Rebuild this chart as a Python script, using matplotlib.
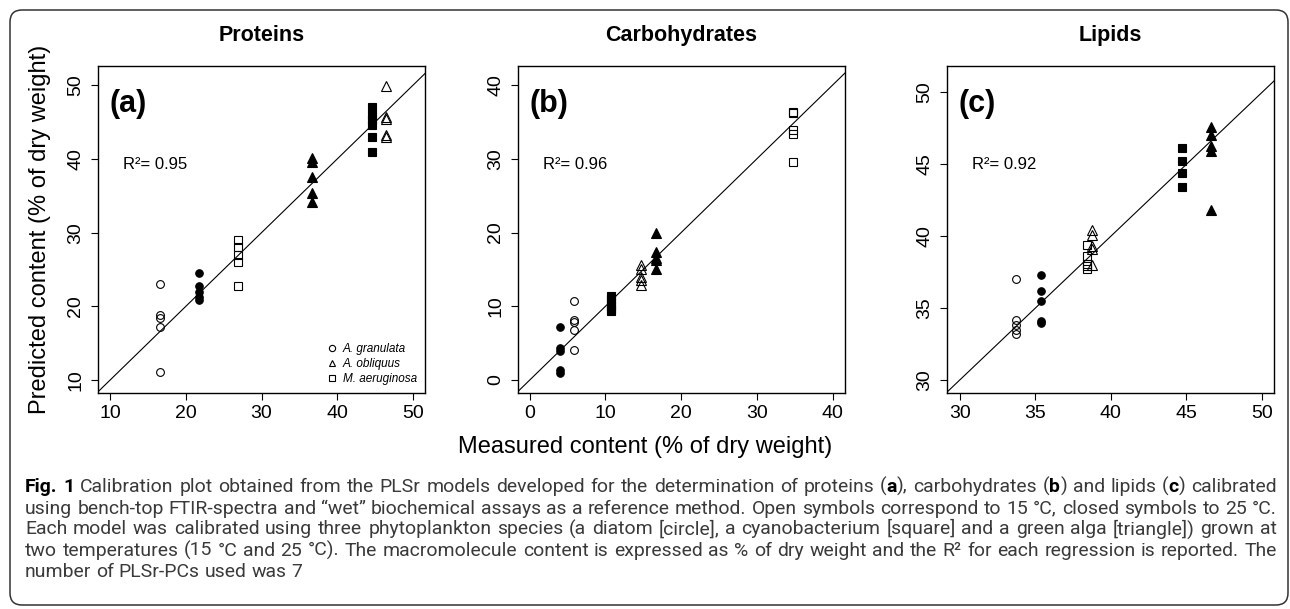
import matplotlib
matplotlib.use('Agg')
import matplotlib.pyplot as plt
from matplotlib import font_manager
from matplotlib.font_manager import FontProperties
from matplotlib.patches import FancyBboxPatch
from matplotlib.transforms import IdentityTransform

plt.rcParams['font.family'] = ['Liberation Sans', 'DejaVu Sans']

W, H = 1290, 609

# group order: A. granulata 15/25, M. aeruginosa 15/25, A. obliquus 15/25
MARKERS = ['o', 'o', 's', 's', '^', '^']
FILLED = [False, True, False, True, False, True]
SIZES = [5.6, 5.4, 5.3, 5.3, 6.8, 6.8]

# proteins
prot_meas = [16.6, 21.7, 26.9, 44.6, 46.5, 36.7]
prot_pred = [
    [23.0, 18.8, 18.4, 17.2, 11.1],
    [24.5, 22.8, 21.9, 21.3, 20.9],
    [29.0, 28.0, 27.0, 26.0, 22.7],
    [47.1, 46.0, 45.3, 44.6, 43.0, 40.9],
    [49.9, 45.7, 45.4, 43.3, 43.0],
    [40.1, 39.6, 37.5, 35.4, 34.2],
]

# carbohydrates
carb_meas = [5.8, 4.05, 34.7, 10.7, 14.7, 16.7]
carb_pred = [
    [10.7, 8.1, 7.9, 6.8, 4.1],
    [7.2, 4.4, 4.0, 1.4, 0.9],
    [36.4, 36.2, 33.9, 33.4, 29.6],
    [11.4, 11.0, 10.5, 10.0, 9.6, 9.3],
    [15.6, 15.0, 14.0, 13.5, 12.9],
    [20.0, 17.4, 16.6, 16.3, 15.1],
]

# lipids
lip_meas = [33.7, 35.4, 38.4, 44.7, 38.75, 46.6]
lip_pred = [
    [37.0, 34.2, 33.8, 33.5, 33.2],
    [37.3, 36.2, 35.5, 34.1, 34.0],
    [39.4, 38.6, 38.1, 37.9, 37.7],
    [46.1, 45.2, 44.4, 43.4],
    [40.4, 40.1, 39.3, 39.1, 38.0],
    [47.6, 47.0, 46.3, 45.9, 41.8],
]

titles = ['Proteins', 'Carbohydrates', 'Lipids']
tags = ['(a)', '(b)', '(c)']
r2_vals = ['0.95', '0.96', '0.92']
species = ['A. granulata', 'A. obliquus', 'M. aeruginosa']

caption_lines = [
    [('Fig. 1', True),
     (' Calibration plot obtained from the PLSr models developed for the determination of proteins (', False),
     ('a', True), ('), carbohydrates (', False), ('b', True), (') and lipids (', False),
     ('c', True), (') calibrated', False)],
    [('using bench-top FTIR-spectra and \u201cwet\u201d biochemical assays as a reference method. '
      'Open symbols correspond to 15 \u00b0C, closed symbols to 25 \u00b0C.', False)],
    [('Each model was calibrated using three phytoplankton species (a diatom [circle], '
      'a cyanobacterium [square] and a green alga [triangle]) grown at', False)],
    [('two temperatures (15 \u00b0C and 25 \u00b0C). The macromolecule content is expressed as '
      '% of dry weight and the R\u00b2 for each regression is reported. The', False)],
    [('number of PLSr-PCs used was 7', False)],
]


def add_px_axes(fig, x0, x1, y0, y1):
    return fig.add_axes([x0 / W, 1 - y1 / H, (x1 - x0) / W, (y1 - y0) / H])


def panel(ax, meas, pred, xlim, ylim, ticks, title, tag, r2):
    for m, p, mk, filled, ms in zip(meas, pred, MARKERS, FILLED, SIZES):
        ax.plot([m] * len(p), p, linestyle='none', marker=mk, ms=ms,
                mfc='black' if filled else 'none', mec='black', mew=0.8, zorder=3)
    ax.axline((0, 0), slope=1, color='black', lw=0.8, zorder=2)
    ax.set_xlim(xlim)
    ax.set_ylim(ylim)
    ax.set_xticks(ticks)
    ax.set_yticks(ticks)
    ax.tick_params(direction='out', length=5, width=0.8, labelsize=14, pad=4)
    ax.tick_params(axis='y', labelrotation=90, pad=5)
    for lbl in ax.get_yticklabels():
        lbl.set_verticalalignment('center')
    for sp in ax.spines.values():
        sp.set_linewidth(1.0)
    ax.set_title(title, fontsize=15.5, fontweight='bold', pad=18)
    ax.text(0.035, 0.885, tag, transform=ax.transAxes, fontsize=22,
            fontweight='bold', va='center', ha='left')
    ax.text(0.076, 0.70, 'R\u00b2= ' + r2, transform=ax.transAxes,
            fontsize=12, va='center', ha='left')


fig = plt.figure(figsize=(W / 100, H / 100), dpi=100)

ax_a = add_px_axes(fig, 98, 425, 66, 393)
ax_b = add_px_axes(fig, 518, 845, 66, 393)
ax_c = add_px_axes(fig, 947, 1274, 66, 393)

panel(ax_a, prot_meas, prot_pred, (8.4, 51.6), (8.24, 52.62),
      [10, 20, 30, 40, 50], titles[0], tags[0], r2_vals[0])
panel(ax_b, carb_meas, carb_pred, (-1.55, 41.63), (-1.76, 42.58),
      [0, 10, 20, 30, 40], titles[1], tags[1], r2_vals[1])
panel(ax_c, lip_meas, lip_pred, (29.16, 50.79), (29.10, 51.83),
      [30, 35, 40, 45, 50], titles[2], tags[2], r2_vals[2])

# legend (open symbols only)
handles = []
for mk in ['o', '^', 's']:
    h, = ax_a.plot([], [], linestyle='none', marker=mk, ms=4.5, mfc='none',
                   mec='black', mew=0.8)
    handles.append(h)
leg = ax_a.legend(handles, species, loc='lower right', frameon=False,
                  prop={'size': 8.5, 'style': 'italic'}, handlelength=1.0,
                  handletextpad=0.4, labelspacing=0.25, borderaxespad=0.3)

fig.text(40 / W, 1 - 229.5 / H, 'Predicted content (% of dry weight)',
         rotation=90, fontsize=17, ha='center', va='center')
fig.text(0.5, 1 - 447 / H, 'Measured content (% of dry weight)',
         fontsize=17, ha='center', va='center')

# outer rounded frame
frame = FancyBboxPatch((10, 4), 1278, 595, boxstyle='round,pad=0,rounding_size=12',
                       transform=IdentityTransform(), fill=False,
                       edgecolor='#333333', lw=1.1)
fig.patches.append(frame)


def have_font(name):
    try:
        font_manager.findfont(FontProperties(family=name), fallback_to_default=False)
        return True
    except ValueError:
        return False


cap_main = 'DejaVu Sans'
for cand in ['Roboto', 'Open Sans']:
    if have_font(cand):
        cap_main = cand
        break
CAP_FONT = [cap_main, 'DejaVu Sans']
renderer = fig.canvas.get_renderer()


def seg_width(text, bold, size):
    prop = FontProperties(family=CAP_FONT, size=size, weight='bold' if bold else 'normal')
    w, h, d = renderer.get_text_width_height_descent(text, prop, ismath=False)
    return w


def split_words(segs):
    words = [[]]
    for text, bold in segs:
        parts = text.split(' ')
        for i, part in enumerate(parts):
            if i > 0:
                words.append([])
            if part:
                words[-1].append((part, bold))
    return [w for w in words if w]


def line_natural(segs, size):
    words = split_words(segs)
    sp = seg_width('a a', False, size) - seg_width('aa', False, size)
    total = sum(seg_width(t, b, size) for w in words for t, b in w)
    return total + sp * (len(words) - 1)


cap_left, cap_right = 25, 1277
base = 10.0
widest = max(line_natural(l, base) for l in caption_lines[:4])
cap_size = base * (cap_right - cap_left - 8) / widest

baselines = [492, 513.5, 534.5, 555.5, 577]
for k, segs in enumerate(caption_lines):
    words = split_words(segs)
    wws = [sum(seg_width(t, b, cap_size) for t, b in w) for w in words]
    sp = seg_width('a a', False, cap_size) - seg_width('aa', False, cap_size)
    if k < 4 and len(words) > 1:
        sp = (cap_right - cap_left - sum(wws)) / (len(words) - 1)
    x = cap_left
    for w, ww in zip(words, wws):
        xx = x
        for t, b in w:
            fig.text(xx / W, 1 - baselines[k] / H, t, fontsize=cap_size,
                     family=CAP_FONT, fontweight='bold' if b else 'normal',
                     color='black' if b else '#3a3a3a', va='baseline', ha='left')
            xx += seg_width(t, b, cap_size)
        x += ww + sp

fig.savefig('out.png', dpi=100)
